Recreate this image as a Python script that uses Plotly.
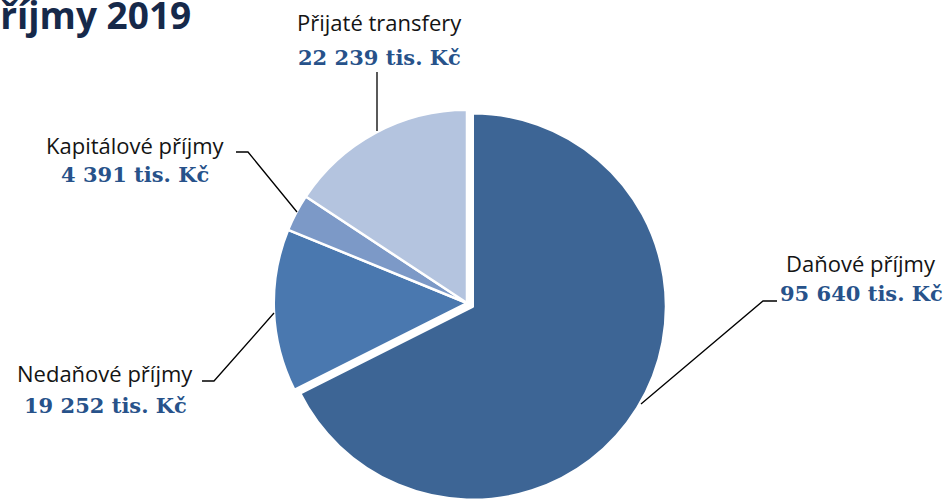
import plotly.graph_objects as go

W, H = 947, 503

categories = ["Daňové příjmy", "Nedaňové příjmy", "Kapitálové příjmy", "Přijaté transfery"]
values = [95640, 19252, 4391, 22239]
value_labels = ["95 640 tis. Kč", "19 252 tis. Kč", "4 391 tis. Kč", "22 239 tis. Kč"]
colors = ["#3D6595", "#4A78AF", "#7C99C7", "#B4C4DF"]
pulls = [0.035, 0, 0, 0]

def px(x):
    return x / W

def py(y):
    return 1 - y / H

fig = go.Figure()
fig.add_trace(go.Pie(
    labels=categories,
    values=values,
    sort=False,
    direction="clockwise",
    rotation=0,
    pull=pulls,
    marker=dict(colors=colors, line=dict(color="white", width=2.5)),
    textinfo="none",
    hoverinfo="label+value",
    showlegend=False,
    domain=dict(x=[px(267), px(667)], y=[py(503), py(103)]),
))

label_pos = {
    # name: (cx, name_y, value_y)
    "Daňové příjmy": (861, 263, 293),
    "Nedaňové příjmy": (105, 373, 405),
    "Kapitálové příjmy": (135, 145, 174),
    "Přijaté transfery": (379, 22, 57),
}
for cat, vl in zip(categories, value_labels):
    cx, ny, vy = label_pos[cat]
    fig.add_annotation(x=px(cx), y=py(ny), xref="paper", yref="paper", text=cat,
                       showarrow=False, xanchor="center", yanchor="middle",
                       font=dict(family="Open Sans", size=22, color="#141414"))
    fig.add_annotation(x=px(cx), y=py(vy), xref="paper", yref="paper", text="<b>" + vl + "</b>",
                       showarrow=False, xanchor="center", yanchor="middle",
                       font=dict(family="DejaVu Serif", size=21, color="#27528A"))

leaders = [
    [(777, 301), (763, 301), (641, 404)],
    [(202, 381), (214, 381), (274, 313)],
    [(236, 152), (248, 152), (297, 212)],
    [(377, 72), (377, 131)],
]
for pts in leaders:
    d = "M " + " L ".join(f"{px(x):.5f},{py(y):.5f}" for x, y in pts)
    fig.add_shape(type="path", path=d, xref="paper", yref="paper",
                  line=dict(color="black", width=1.3))

fig.add_annotation(x=px(193), y=py(14), xref="paper", yref="paper", text="<b>Příjmy 2019</b>",
                   showarrow=False, xanchor="right", yanchor="middle",
                   font=dict(family="Open Sans", size=37, color="#16294A"))

fig.update_layout(width=W, height=H, margin=dict(l=0, r=0, t=0, b=0),
                  paper_bgcolor="white", plot_bgcolor="white")
fig.write_html("out.html", config={"displayModeBar": False},
               post_script="document.body.style.margin='0';")
